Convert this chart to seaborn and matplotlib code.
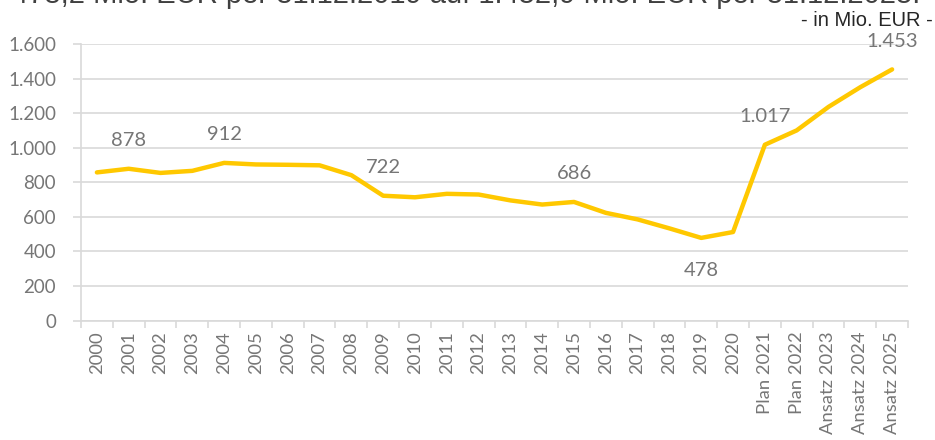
import matplotlib
matplotlib.use("Agg")
import matplotlib.pyplot as plt
import matplotlib.ticker as mticker
import pandas as pd
import seaborn as sns

# Jahre / Planansätze und Werte in Mio. EUR
kategorien = [
    "2000", "2001", "2002", "2003", "2004", "2005", "2006", "2007", "2008",
    "2009", "2010", "2011", "2012", "2013", "2014", "2015", "2016", "2017",
    "2018", "2019", "2020", "Plan 2021", "Plan 2022", "Ansatz 2023",
    "Ansatz 2024", "Ansatz 2025",
]
werte = [
    857, 878, 854, 866, 912, 903, 901, 898, 841,
    722, 713, 733, 729, 695, 671, 686, 623, 585,
    533, 478, 512, 1017, 1100, 1236, 1350, 1453,
]
# Datenbeschriftungen: Kategorie -> Position (über/unter der Linie)
beschriftet = {
    "2001": "oben", "2004": "oben", "2009": "oben", "2015": "oben",
    "2019": "unten", "Plan 2021": "oben", "Ansatz 2025": "oben",
}
y_ticks = [0, 200, 400, 600, 800, 1000, 1200, 1400, 1600]
titel = "478,2 Mio. EUR per 31.12.2019 auf 1.452,9 Mio. EUR per 31.12.2025."
einheit = "- in Mio. EUR -"

df = pd.DataFrame({"Kategorie": kategorien, "Wert": werte})

sns.set_theme(style="white")
plt.rcParams["font.family"] = ["Lato", "DejaVu Sans"]

W, H, DPI = 935, 440, 100
fig = plt.figure(figsize=(W / DPI, H / DPI), dpi=DPI)
ax = fig.add_axes([81 / W, 1 - 320.5 / H, (908 - 81) / W, (320.5 - 44) / H])

grau = "#767676"
gitter = "#D9D9D9"
gold = "#FFC800"

sns.lineplot(data=df, x="Kategorie", y="Wert", sort=False, color=gold,
             linewidth=3.2, ax=ax, zorder=3)

ax.set_xlim(-0.5, len(kategorien) - 0.5)
ax.set_ylim(0, 1600)
ax.set_yticks(y_ticks)
ax.yaxis.set_major_formatter(mticker.FuncFormatter(
    lambda v, p: f"{int(v):,}".replace(",", ".")))
ax.grid(axis="y", color=gitter, linewidth=1.2, zorder=0)
ax.grid(axis="x", visible=False)

ax.set_xticks(range(len(kategorien)))
ax.set_xticklabels(kategorien, rotation=90)
ax.xaxis.set_minor_locator(mticker.FixedLocator(
    [i - 0.5 for i in range(len(kategorien) + 1)]))
ax.tick_params(axis="x", which="major", length=0, pad=8,
               labelsize=13.3, labelcolor=grau)
ax.tick_params(axis="x", which="minor", length=5, width=1.2, color=gitter,
               direction="out", bottom=True)
ax.tick_params(axis="y", length=6, width=1.2, color=gitter, direction="out",
               left=True, pad=12, labelsize=13.5, labelcolor=grau)

for side in ["top", "right"]:
    ax.spines[side].set_visible(False)
for side in ["left", "bottom"]:
    ax.spines[side].set_color(gitter)
    ax.spines[side].set_linewidth(1.2)

ax.set_xlabel("")
ax.set_ylabel("")

for i, (k, v) in enumerate(zip(kategorien, werte)):
    if k in beschriftet:
        txt = f"{v:,}".replace(",", ".")
        dy = 28 if beschriftet[k] == "oben" else -33
        ax.annotate(txt, (i, v), xytext=(0, dy), textcoords="offset pixels",
                    ha="center", va="center", fontsize=14.5, color=grau)

fig.text(920 / W, 1 - 3 / H, titel, ha="right", va="baseline",
         fontsize=21, color="#404040", family=["Liberation Sans", "DejaVu Sans"])
fig.text(933 / W, 1 - 20 / H, einheit, ha="right", va="center",
         fontsize=14.5, color="#262626", family=["Liberation Sans", "DejaVu Sans"])

fig.savefig("out.png", dpi=DPI)
